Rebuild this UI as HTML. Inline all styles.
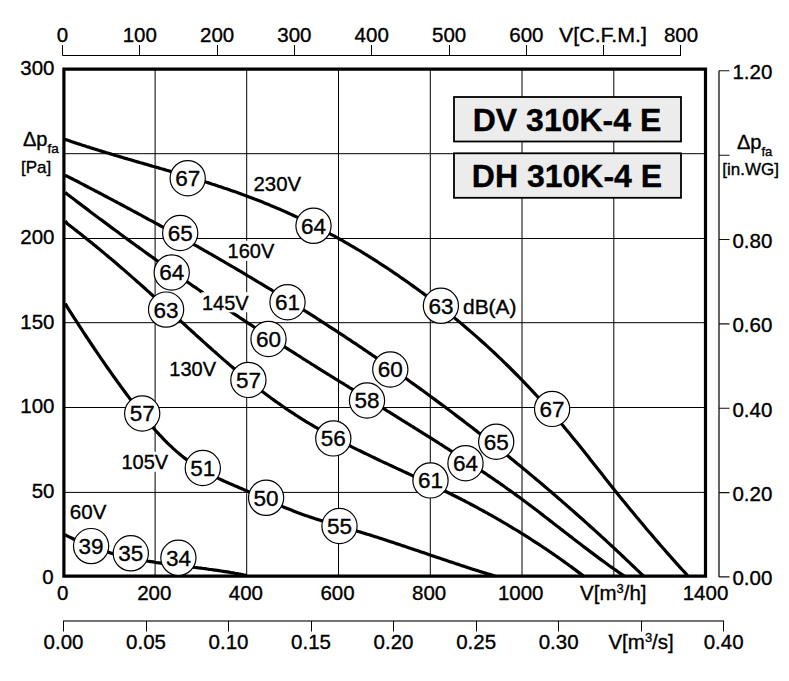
<!DOCTYPE html>
<html><head><meta charset="utf-8"><style>
html,body{margin:0;padding:0;background:#fff;width:789px;height:681px;overflow:hidden}
svg{display:block}
text{font-family:"Liberation Sans",Arial,sans-serif;fill:#000;stroke:#000;stroke-width:0.35px}
.a{font-size:20.5px}
.s{font-size:17px}
.l{font-size:20px}
.c{font-size:22.5px;text-anchor:middle}
.b{font-size:32px;font-weight:bold;text-anchor:middle}
</style></head><body>
<svg width="789" height="681" viewBox="0 0 789 681">
<rect width="789" height="681" fill="#fff"/>
<path d="M155.1,70V576 M246.7,70V576 M338.5,70V576 M430.3,70V576 M522.0,70V576 M613.8,70V576 M64,492.4H705 M64,407.5H705 M64,322.7H705 M64,238.5H705 M64,153.7H705" stroke="#000" stroke-width="1" fill="none"/>
<path d="M64.5,139.5 66.5,139.8 68.5,140.5 70.5,141.2 72.5,141.9 74.5,142.6 76.5,143.2 78.5,143.9 80.5,144.5 82.5,145.2 84.5,145.8 86.5,146.5 88.5,147.1 90.5,147.8 92.5,148.4 94.5,149.0 96.5,149.6 98.5,150.3 100.5,150.9 102.5,151.5 104.5,152.1 106.5,152.7 108.5,153.3 110.5,153.9 112.5,154.5 114.5,155.1 116.5,155.7 118.5,156.3 120.5,156.9 122.5,157.5 124.5,158.1 126.5,158.6 128.5,159.2 130.5,159.8 132.5,160.4 134.5,161.0 136.5,161.6 138.5,162.1 140.5,162.7 142.5,163.3 144.5,163.9 146.5,164.4 148.5,165.0 150.5,165.6 152.5,166.2 154.5,166.7 156.5,167.3 158.5,167.9 160.5,168.5 162.5,169.0 164.5,169.6 166.5,170.2 168.5,170.8 170.5,171.4 172.5,172.0 174.5,172.5 176.5,173.1 178.5,173.7 180.5,174.3 182.5,174.9 184.5,175.5 186.5,176.1 188.5,176.7 190.5,177.3 192.5,177.9 194.5,178.5 196.5,179.1 198.5,179.8 200.5,180.4 202.5,181.0 204.5,181.6 206.5,182.3 208.5,182.9 210.5,183.5 212.5,184.2 214.5,184.8 216.5,185.5 218.5,186.2 220.5,186.8 222.5,187.5 224.5,188.2 226.5,188.8 228.5,189.5 230.5,190.2 232.5,190.9 234.5,191.6 236.5,192.3 238.5,193.0 240.5,193.7 242.5,194.5 244.5,195.2 246.5,195.9 248.5,196.7 250.5,197.4 252.5,198.2 254.5,199.0 256.5,199.7 258.5,200.5 260.5,201.3 262.5,202.1 264.5,202.9 266.5,203.7 268.5,204.5 270.5,205.4 272.5,206.2 274.5,207.1 276.5,207.9 278.5,208.8 280.5,209.6 282.5,210.5 284.5,211.4 286.5,212.3 288.5,213.2 290.5,214.1 292.5,215.0 294.5,216.0 296.5,216.9 298.5,217.8 300.5,218.8 302.5,219.7 304.5,220.7 306.5,221.7 308.5,222.7 310.5,223.7 312.5,224.7 314.5,225.7 316.5,226.7 318.5,227.7 320.5,228.8 322.5,229.8 324.5,230.9 326.5,231.9 328.5,233.0 330.5,234.1 332.5,235.1 334.5,236.2 336.5,237.3 338.5,238.4 340.5,239.6 342.5,240.7 344.5,241.8 346.5,243.0 348.5,244.1 350.5,245.3 352.5,246.5 354.5,247.6 356.5,248.8 358.5,250.0 360.5,251.2 362.5,252.4 364.5,253.7 366.5,254.9 368.5,256.1 370.5,257.4 372.5,258.6 374.5,259.9 376.5,261.2 378.5,262.5 380.5,263.8 382.5,265.1 384.5,266.4 386.5,267.7 388.5,269.0 390.5,270.4 392.5,271.7 394.5,273.1 396.5,274.4 398.5,275.8 400.5,277.2 402.5,278.6 404.5,280.0 406.5,281.4 408.5,282.8 410.5,284.2 412.5,285.6 414.5,287.1 416.5,288.5 418.5,290.0 420.5,291.5 422.5,292.9 424.5,294.4 426.5,295.9 428.5,297.4 430.5,299.0 432.5,300.5 434.5,302.0 436.5,303.6 438.5,305.1 440.5,306.7 442.5,308.3 444.5,309.8 446.5,311.4 448.5,313.0 450.5,314.6 452.5,316.3 454.5,317.9 456.5,319.6 458.5,321.2 460.5,322.9 462.5,324.6 464.5,326.2 466.5,328.0 468.5,329.7 470.5,331.4 472.5,333.1 474.5,334.9 476.5,336.6 478.5,338.4 480.5,340.2 482.5,342.0 484.5,343.8 486.5,345.6 488.5,347.4 490.5,349.3 492.5,351.1 494.5,353.0 496.5,354.9 498.5,356.8 500.5,358.7 502.5,360.6 504.5,362.6 506.5,364.5 508.5,366.5 510.5,368.5 512.5,370.5 514.5,372.5 516.5,374.5 518.5,376.5 520.5,378.6 522.5,380.6 524.5,382.7 526.5,384.8 528.5,386.9 530.5,389.0 532.5,391.2 534.5,393.3 536.5,395.5 538.5,397.7 540.5,399.9 542.5,402.1 544.5,404.3 546.5,406.6 548.5,408.8 550.5,411.1 552.5,413.4 554.5,415.7 556.5,418.0 558.5,420.4 560.5,422.7 562.5,425.1 564.5,427.5 566.5,429.9 568.5,432.3 570.5,434.7 572.5,437.2 574.5,439.7 576.5,442.1 578.5,444.6 580.5,447.1 582.5,449.6 584.5,452.1 586.5,454.6 588.5,457.1 590.5,459.7 592.5,462.2 594.5,464.7 596.5,467.2 598.5,469.8 600.5,472.3 602.5,474.8 604.5,477.4 606.5,479.9 608.5,482.4 610.5,484.9 612.5,487.4 614.5,489.9 616.5,492.4 618.5,494.9 620.5,497.4 622.5,499.9 624.5,502.3 626.5,504.8 628.5,507.2 630.5,509.7 632.5,512.1 634.5,514.5 636.5,516.9 638.5,519.3 640.5,521.7 642.5,524.1 644.5,526.5 646.5,528.9 648.5,531.2 650.5,533.6 652.5,535.9 654.5,538.3 656.5,540.6 658.5,542.9 660.5,545.2 662.5,547.5 664.5,549.8 666.5,552.1 668.5,554.4 670.5,556.6 672.5,558.9 674.5,561.1 676.5,563.4 678.5,565.6 680.5,567.8 682.5,570.0 684.5,572.2 686.5,574.4 687.6,576.0" stroke="#000" stroke-width="3.2" fill="none" stroke-linejoin="round"/>
<path d="M65.0,175.5 67.0,176.1 69.0,177.2 71.0,178.2 73.0,179.2 75.0,180.3 77.0,181.3 79.0,182.3 81.0,183.4 83.0,184.4 85.0,185.5 87.0,186.5 89.0,187.6 91.0,188.6 93.0,189.6 95.0,190.7 97.0,191.7 99.0,192.8 101.0,193.8 103.0,194.9 105.0,196.0 107.0,197.0 109.0,198.1 111.0,199.1 113.0,200.2 115.0,201.3 117.0,202.3 119.0,203.4 121.0,204.5 123.0,205.5 125.0,206.6 127.0,207.7 129.0,208.7 131.0,209.8 133.0,210.9 135.0,212.0 137.0,213.0 139.0,214.1 141.0,215.2 143.0,216.3 145.0,217.4 147.0,218.5 149.0,219.6 151.0,220.6 153.0,221.7 155.0,222.8 157.0,223.9 159.0,225.0 161.0,226.1 163.0,227.2 165.0,228.3 167.0,229.4 169.0,230.5 171.0,231.7 173.0,232.8 175.0,233.9 177.0,235.0 179.0,236.1 181.0,237.2 183.0,238.3 185.0,239.5 187.0,240.6 189.0,241.7 191.0,242.8 193.0,244.0 195.0,245.1 197.0,246.2 199.0,247.4 201.0,248.5 203.0,249.7 205.0,250.8 207.0,251.9 209.0,253.1 211.0,254.2 213.0,255.4 215.0,256.5 217.0,257.7 219.0,258.9 221.0,260.0 223.0,261.2 225.0,262.3 227.0,263.5 229.0,264.7 231.0,265.8 233.0,267.0 235.0,268.2 237.0,269.4 239.0,270.5 241.0,271.7 243.0,272.9 245.0,274.1 247.0,275.3 249.0,276.5 251.0,277.7 253.0,278.9 255.0,280.1 257.0,281.3 259.0,282.5 261.0,283.7 263.0,284.9 265.0,286.1 267.0,287.3 269.0,288.5 271.0,289.7 273.0,291.0 275.0,292.2 277.0,293.4 279.0,294.6 281.0,295.9 283.0,297.1 285.0,298.3 287.0,299.6 289.0,300.8 291.0,302.1 293.0,303.3 295.0,304.6 297.0,305.8 299.0,307.1 301.0,308.3 303.0,309.6 305.0,310.9 307.0,312.1 309.0,313.4 311.0,314.7 313.0,315.9 315.0,317.2 317.0,318.5 319.0,319.8 321.0,321.1 323.0,322.4 325.0,323.7 327.0,325.0 329.0,326.3 331.0,327.6 333.0,328.9 335.0,330.2 337.0,331.5 339.0,332.8 341.0,334.1 343.0,335.4 345.0,336.7 347.0,338.1 349.0,339.4 351.0,340.7 353.0,342.1 355.0,343.4 357.0,344.7 359.0,346.1 361.0,347.4 363.0,348.8 365.0,350.1 367.0,351.5 369.0,352.9 371.0,354.2 373.0,355.6 375.0,356.9 377.0,358.3 379.0,359.7 381.0,361.1 383.0,362.5 385.0,363.8 387.0,365.2 389.0,366.6 391.0,368.0 393.0,369.4 395.0,370.8 397.0,372.2 399.0,373.6 401.0,375.1 403.0,376.5 405.0,377.9 407.0,379.3 409.0,380.7 411.0,382.2 413.0,383.6 415.0,385.0 417.0,386.5 419.0,387.9 421.0,389.4 423.0,390.8 425.0,392.3 427.0,393.7 429.0,395.2 431.0,396.7 433.0,398.1 435.0,399.6 437.0,401.1 439.0,402.6 441.0,404.1 443.0,405.5 445.0,407.0 447.0,408.5 449.0,410.0 451.0,411.5 453.0,413.0 455.0,414.6 457.0,416.1 459.0,417.6 461.0,419.1 463.0,420.6 465.0,422.2 467.0,423.7 469.0,425.2 471.0,426.8 473.0,428.3 475.0,429.9 477.0,431.4 479.0,433.0 481.0,434.5 483.0,436.1 485.0,437.7 487.0,439.3 489.0,440.8 491.0,442.4 493.0,444.0 495.0,445.6 497.0,447.2 499.0,448.8 501.0,450.4 503.0,452.0 505.0,453.6 507.0,455.2 509.0,456.8 511.0,458.5 513.0,460.1 515.0,461.7 517.0,463.4 519.0,465.0 521.0,466.6 523.0,468.3 525.0,469.9 527.0,471.6 529.0,473.3 531.0,474.9 533.0,476.6 535.0,478.3 537.0,480.0 539.0,481.6 541.0,483.3 543.0,485.0 545.0,486.7 547.0,488.4 549.0,490.1 551.0,491.8 553.0,493.5 555.0,495.3 557.0,497.0 559.0,498.7 561.0,500.4 563.0,502.2 565.0,503.9 567.0,505.7 569.0,507.4 571.0,509.2 573.0,510.9 575.0,512.7 577.0,514.5 579.0,516.2 581.0,518.0 583.0,519.8 585.0,521.6 587.0,523.4 589.0,525.2 591.0,527.0 593.0,528.8 595.0,530.6 597.0,532.4 599.0,534.2 601.0,536.1 603.0,537.9 605.0,539.7 607.0,541.6 609.0,543.4 611.0,545.3 613.0,547.1 615.0,549.0 617.0,550.9 619.0,552.7 621.0,554.6 623.0,556.5 625.0,558.4 627.0,560.3 629.0,562.2 631.0,564.1 633.0,566.0 635.0,567.9 637.0,569.8 639.0,571.7 641.0,573.6 643.0,575.6 644.0,576.0" stroke="#000" stroke-width="3.2" fill="none" stroke-linejoin="round"/>
<path d="M65.3,192.5 67.3,194.2 69.3,195.7 71.3,197.3 73.3,198.8 75.3,200.3 77.3,201.9 79.3,203.4 81.3,204.9 83.3,206.4 85.3,207.9 87.3,209.4 89.3,210.9 91.3,212.5 93.3,214.0 95.3,215.5 97.3,217.0 99.3,218.5 101.3,219.9 103.3,221.4 105.3,222.9 107.3,224.4 109.3,225.9 111.3,227.4 113.3,228.9 115.3,230.3 117.3,231.8 119.3,233.3 121.3,234.7 123.3,236.2 125.3,237.7 127.3,239.1 129.3,240.6 131.3,242.1 133.3,243.5 135.3,245.0 137.3,246.4 139.3,247.9 141.3,249.3 143.3,250.8 145.3,252.2 147.3,253.6 149.3,255.1 151.3,256.5 153.3,257.9 155.3,259.4 157.3,260.8 159.3,262.2 161.3,263.6 163.3,265.1 165.3,266.5 167.3,267.9 169.3,269.3 171.3,270.7 173.3,272.1 175.3,273.5 177.3,274.9 179.3,276.3 181.3,277.7 183.3,279.1 185.3,280.5 187.3,281.9 189.3,283.3 191.3,284.7 193.3,286.1 195.3,287.4 197.3,288.8 199.3,290.2 201.3,291.6 203.3,293.0 205.3,294.3 207.3,295.7 209.3,297.1 211.3,298.4 213.3,299.8 215.3,301.1 217.3,302.5 219.3,303.9 221.3,305.2 223.3,306.6 225.3,307.9 227.3,309.2 229.3,310.6 231.3,311.9 233.3,313.3 235.3,314.6 237.3,315.9 239.3,317.3 241.3,318.6 243.3,319.9 245.3,321.3 247.3,322.6 249.3,323.9 251.3,325.2 253.3,326.5 255.3,327.9 257.3,329.2 259.3,330.5 261.3,331.8 263.3,333.1 265.3,334.4 267.3,335.7 269.3,337.0 271.3,338.3 273.3,339.6 275.3,340.9 277.3,342.2 279.3,343.5 281.3,344.7 283.3,346.0 285.3,347.3 287.3,348.6 289.3,349.9 291.3,351.1 293.3,352.4 295.3,353.7 297.3,355.0 299.3,356.2 301.3,357.5 303.3,358.8 305.3,360.0 307.3,361.3 309.3,362.5 311.3,363.8 313.3,365.0 315.3,366.3 317.3,367.6 319.3,368.8 321.3,370.1 323.3,371.3 325.3,372.6 327.3,373.8 329.3,375.0 331.3,376.3 333.3,377.5 335.3,378.8 337.3,380.0 339.3,381.3 341.3,382.5 343.3,383.7 345.3,385.0 347.3,386.2 349.3,387.5 351.3,388.7 353.3,389.9 355.3,391.2 357.3,392.4 359.3,393.6 361.3,394.9 363.3,396.1 365.3,397.4 367.3,398.6 369.3,399.8 371.3,401.1 373.3,402.3 375.3,403.5 377.3,404.8 379.3,406.0 381.3,407.2 383.3,408.5 385.3,409.7 387.3,411.0 389.3,412.2 391.3,413.4 393.3,414.7 395.3,415.9 397.3,417.1 399.3,418.4 401.3,419.6 403.3,420.9 405.3,422.1 407.3,423.4 409.3,424.6 411.3,425.9 413.3,427.1 415.3,428.4 417.3,429.6 419.3,430.9 421.3,432.1 423.3,433.4 425.3,434.6 427.3,435.9 429.3,437.1 431.3,438.4 433.3,439.7 435.3,440.9 437.3,442.2 439.3,443.5 441.3,444.7 443.3,446.0 445.3,447.3 447.3,448.5 449.3,449.8 451.3,451.1 453.3,452.4 455.3,453.7 457.3,455.0 459.3,456.3 461.3,457.6 463.3,458.9 465.3,460.2 467.3,461.5 469.3,462.8 471.3,464.1 473.3,465.4 475.3,466.7 477.3,468.1 479.3,469.4 481.3,470.7 483.3,472.1 485.3,473.4 487.3,474.8 489.3,476.1 491.3,477.5 493.3,478.9 495.3,480.3 497.3,481.6 499.3,483.0 501.3,484.4 503.3,485.8 505.3,487.2 507.3,488.7 509.3,490.1 511.3,491.5 513.3,493.0 515.3,494.4 517.3,495.9 519.3,497.3 521.3,498.8 523.3,500.3 525.3,501.8 527.3,503.2 529.3,504.7 531.3,506.3 533.3,507.8 535.3,509.3 537.3,510.8 539.3,512.3 541.3,513.9 543.3,515.4 545.3,517.0 547.3,518.5 549.3,520.1 551.3,521.6 553.3,523.2 555.3,524.7 557.3,526.3 559.3,527.8 561.3,529.4 563.3,530.9 565.3,532.5 567.3,534.0 569.3,535.6 571.3,537.1 573.3,538.7 575.3,540.2 577.3,541.8 579.3,543.3 581.3,544.8 583.3,546.4 585.3,547.9 587.3,549.4 589.3,550.9 591.3,552.4 593.3,553.9 595.3,555.4 597.3,556.9 599.3,558.4 601.3,559.9 603.3,561.3 605.3,562.8 607.3,564.2 609.3,565.7 611.3,567.1 613.3,568.5 615.3,569.9 617.3,571.3 619.3,572.7 621.3,574.0 623.3,575.4 624.6,576.0" stroke="#000" stroke-width="3.2" fill="none" stroke-linejoin="round"/>
<path d="M65.3,221.1 67.3,223.7 69.3,225.2 71.3,226.8 73.3,228.3 75.3,229.9 77.3,231.4 79.3,233.0 81.3,234.6 83.3,236.2 85.3,237.8 87.3,239.4 89.3,241.0 91.3,242.6 93.3,244.2 95.3,245.8 97.3,247.5 99.3,249.1 101.3,250.8 103.3,252.4 105.3,254.1 107.3,255.8 109.3,257.5 111.3,259.1 113.3,260.8 115.3,262.5 117.3,264.2 119.3,266.0 121.3,267.7 123.3,269.4 125.3,271.1 127.3,272.9 129.3,274.6 131.3,276.4 133.3,278.1 135.3,279.9 137.3,281.7 139.3,283.4 141.3,285.2 143.3,287.0 145.3,288.8 147.3,290.6 149.3,292.4 151.3,294.2 153.3,296.0 155.3,297.8 157.3,299.6 159.3,301.4 161.3,303.3 163.3,305.1 165.3,306.9 167.3,308.7 169.3,310.6 171.3,312.4 173.3,314.2 175.3,316.1 177.3,317.9 179.3,319.7 181.3,321.6 183.3,323.4 185.3,325.2 187.3,327.1 189.3,328.9 191.3,330.7 193.3,332.5 195.3,334.4 197.3,336.2 199.3,338.0 201.3,339.8 203.3,341.6 205.3,343.4 207.3,345.2 209.3,347.0 211.3,348.8 213.3,350.6 215.3,352.3 217.3,354.1 219.3,355.9 221.3,357.6 223.3,359.4 225.3,361.1 227.3,362.8 229.3,364.6 231.3,366.3 233.3,368.0 235.3,369.7 237.3,371.3 239.3,373.0 241.3,374.7 243.3,376.3 245.3,378.0 247.3,379.6 249.3,381.2 251.3,382.8 253.3,384.4 255.3,386.0 257.3,387.6 259.3,389.1 261.3,390.7 263.3,392.2 265.3,393.7 267.3,395.2 269.3,396.7 271.3,398.2 273.3,399.6 275.3,401.1 277.3,402.5 279.3,403.9 281.3,405.3 283.3,406.7 285.3,408.1 287.3,409.5 289.3,410.8 291.3,412.1 293.3,413.4 295.3,414.8 297.3,416.0 299.3,417.3 301.3,418.6 303.3,419.8 305.3,421.1 307.3,422.3 309.3,423.5 311.3,424.7 313.3,425.9 315.3,427.1 317.3,428.2 319.3,429.4 321.3,430.5 323.3,431.6 325.3,432.8 327.3,433.9 329.3,435.0 331.3,436.1 333.3,437.2 335.3,438.2 337.3,439.3 339.3,440.4 341.3,441.4 343.3,442.5 345.3,443.5 347.3,444.5 349.3,445.5 351.3,446.6 353.3,447.6 355.3,448.6 357.3,449.6 359.3,450.5 361.3,451.5 363.3,452.5 365.3,453.5 367.3,454.4 369.3,455.4 371.3,456.4 373.3,457.3 375.3,458.3 377.3,459.2 379.3,460.2 381.3,461.1 383.3,462.1 385.3,463.0 387.3,463.9 389.3,464.9 391.3,465.8 393.3,466.7 395.3,467.6 397.3,468.6 399.3,469.5 401.3,470.4 403.3,471.4 405.3,472.3 407.3,473.2 409.3,474.1 411.3,475.1 413.3,476.0 415.3,476.9 417.3,477.8 419.3,478.8 421.3,479.7 423.3,480.7 425.3,481.6 427.3,482.5 429.3,483.5 431.3,484.4 433.3,485.4 435.3,486.3 437.3,487.3 439.3,488.3 441.3,489.2 443.3,490.2 445.3,491.2 447.3,492.2 449.3,493.2 451.3,494.2 453.3,495.2 455.3,496.2 457.3,497.2 459.3,498.2 461.3,499.2 463.3,500.3 465.3,501.3 467.3,502.4 469.3,503.4 471.3,504.5 473.3,505.5 475.3,506.6 477.3,507.7 479.3,508.8 481.3,509.9 483.3,511.0 485.3,512.1 487.3,513.2 489.3,514.3 491.3,515.4 493.3,516.5 495.3,517.7 497.3,518.8 499.3,520.0 501.3,521.1 503.3,522.3 505.3,523.5 507.3,524.7 509.3,525.9 511.3,527.1 513.3,528.3 515.3,529.5 517.3,530.7 519.3,531.9 521.3,533.2 523.3,534.4 525.3,535.7 527.3,536.9 529.3,538.2 531.3,539.5 533.3,540.8 535.3,542.1 537.3,543.4 539.3,544.7 541.3,546.0 543.3,547.3 545.3,548.7 547.3,550.0 549.3,551.4 551.3,552.7 553.3,554.1 555.3,555.5 557.3,556.9 559.3,558.3 561.3,559.7 563.3,561.1 565.3,562.6 567.3,564.0 569.3,565.5 571.3,566.9 573.3,568.4 575.3,569.9 577.3,571.4 579.3,572.9 581.3,574.4 583.3,575.9 584.0,576.0" stroke="#000" stroke-width="3.2" fill="none" stroke-linejoin="round"/>
<path d="M65.3,303.5 67.3,307.2 69.3,310.3 71.3,313.4 73.3,316.6 75.3,319.7 77.3,322.7 79.3,325.8 81.3,328.9 83.3,332.0 85.3,335.0 87.3,338.0 89.3,341.0 91.3,344.0 93.3,347.0 95.3,350.0 97.3,352.9 99.3,355.9 101.3,358.8 103.3,361.7 105.3,364.6 107.3,367.5 109.3,370.3 111.3,373.2 113.3,376.0 115.3,378.8 117.3,381.6 119.3,384.3 121.3,387.1 123.3,389.8 125.3,392.5 127.3,395.2 129.3,397.9 131.3,400.5 133.3,403.1 135.3,405.8 137.3,408.3 139.3,410.9 141.3,413.4 143.3,415.9 145.3,418.4 147.3,420.8 149.3,423.2 151.3,425.6 153.3,427.9 155.3,430.2 157.3,432.4 159.3,434.6 161.3,436.7 163.3,438.8 165.3,440.9 167.3,442.9 169.3,444.8 171.3,446.7 173.3,448.6 175.3,450.4 177.3,452.1 179.3,453.8 181.3,455.5 183.3,457.1 185.3,458.6 187.3,460.1 189.3,461.6 191.3,463.0 193.3,464.3 195.3,465.6 197.3,466.9 199.3,468.2 201.3,469.4 203.3,470.5 205.3,471.7 207.3,472.8 209.3,473.9 211.3,474.9 213.3,475.9 215.3,476.9 217.3,477.9 219.3,478.9 221.3,479.8 223.3,480.7 225.3,481.6 227.3,482.5 229.3,483.4 231.3,484.3 233.3,485.1 235.3,486.0 237.3,486.8 239.3,487.7 241.3,488.5 243.3,489.4 245.3,490.3 247.3,491.1 249.3,492.0 251.3,492.9 253.3,493.7 255.3,494.6 257.3,495.5 259.3,496.4 261.3,497.3 263.3,498.2 265.3,499.0 267.3,499.9 269.3,500.8 271.3,501.7 273.3,502.6 275.3,503.4 277.3,504.3 279.3,505.2 281.3,506.0 283.3,506.9 285.3,507.7 287.3,508.5 289.3,509.3 291.3,510.1 293.3,510.9 295.3,511.7 297.3,512.5 299.3,513.2 301.3,514.0 303.3,514.7 305.3,515.4 307.3,516.1 309.3,516.8 311.3,517.4 313.3,518.1 315.3,518.8 317.3,519.4 319.3,520.0 321.3,520.6 323.3,521.3 325.3,521.9 327.3,522.5 329.3,523.1 331.3,523.6 333.3,524.2 335.3,524.8 337.3,525.4 339.3,526.0 341.3,526.5 343.3,527.1 345.3,527.7 347.3,528.3 349.3,528.8 351.3,529.4 353.3,530.0 355.3,530.6 357.3,531.2 359.3,531.8 361.3,532.4 363.3,533.0 365.3,533.6 367.3,534.2 369.3,534.8 371.3,535.4 373.3,536.1 375.3,536.7 377.3,537.3 379.3,538.0 381.3,538.6 383.3,539.3 385.3,539.9 387.3,540.6 389.3,541.2 391.3,541.9 393.3,542.5 395.3,543.2 397.3,543.9 399.3,544.5 401.3,545.2 403.3,545.9 405.3,546.5 407.3,547.2 409.3,547.9 411.3,548.6 413.3,549.2 415.3,549.9 417.3,550.6 419.3,551.3 421.3,552.0 423.3,552.6 425.3,553.3 427.3,554.0 429.3,554.7 431.3,555.4 433.3,556.1 435.3,556.7 437.3,557.4 439.3,558.1 441.3,558.8 443.3,559.4 445.3,560.1 447.3,560.8 449.3,561.5 451.3,562.1 453.3,562.8 455.3,563.5 457.3,564.1 459.3,564.8 461.3,565.5 463.3,566.1 465.3,566.8 467.3,567.4 469.3,568.1 471.3,568.7 473.3,569.4 475.3,570.0 477.3,570.6 479.3,571.3 481.3,571.9 483.3,572.5 485.3,573.1 487.3,573.7 489.3,574.3 491.3,574.9 493.3,575.5 495.2,576.0" stroke="#000" stroke-width="3.2" fill="none" stroke-linejoin="round"/>
<path d="M65.1,534.6 67.1,535.8 69.1,536.9 71.1,537.8 73.1,538.8 75.1,539.8 77.1,540.7 79.1,541.6 81.1,542.5 83.1,543.3 85.1,544.2 87.1,545.0 89.1,545.7 91.1,546.5 93.1,547.3 95.1,548.0 97.1,548.7 99.1,549.4 101.1,550.0 103.1,550.7 105.1,551.3 107.1,551.9 109.1,552.5 111.1,553.1 113.1,553.6 115.1,554.2 117.1,554.7 119.1,555.2 121.1,555.7 123.1,556.2 125.1,556.7 127.1,557.1 129.1,557.5 131.1,558.0 133.1,558.4 135.1,558.8 137.1,559.2 139.1,559.6 141.1,559.9 143.1,560.3 145.1,560.6 147.1,561.0 149.1,561.3 151.1,561.6 153.1,561.9 155.1,562.3 157.1,562.6 159.1,562.8 161.1,563.1 163.1,563.4 165.1,563.7 167.1,564.0 169.1,564.2 171.1,564.5 173.1,564.7 175.1,565.0 177.1,565.3 179.1,565.5 181.1,565.8 183.1,566.0 185.1,566.2 187.1,566.5 189.1,566.7 191.1,567.0 193.1,567.2 195.1,567.5 197.1,567.7 199.1,568.0 201.1,568.2 203.1,568.5 205.1,568.7 207.1,569.0 209.1,569.3 211.1,569.5 213.1,569.8 215.1,570.1 217.1,570.4 219.1,570.7 221.1,571.0 223.1,571.3 225.1,571.6 227.1,571.9 229.1,572.2 231.1,572.6 233.1,572.9 235.1,573.3 237.1,573.6 239.1,574.0 241.1,574.4 243.1,574.8 245.1,575.2 247.0,575.5" stroke="#000" stroke-width="3.2" fill="none" stroke-linejoin="round"/>
<path d="M63.9,69.2H705.5V576.2H63.9Z" fill="none" stroke="#000" stroke-width="3.2"/>
<rect x="252.8" y="173.5" width="48.7" height="20.1" fill="#fff"/>
<text x="253.5" y="190.8" class="l" textLength="47.6" lengthAdjust="spacingAndGlyphs">230V</text>
<rect x="226.9" y="240.8" width="48.7" height="20.1" fill="#fff"/>
<text x="227.6" y="258.1" class="l">160V</text>
<rect x="201.3" y="292.2" width="48.7" height="20.1" fill="#fff"/>
<text x="202.0" y="309.5" class="l">145V</text>
<rect x="168.6" y="358.5" width="48.7" height="20.1" fill="#fff"/>
<text x="169.3" y="375.8" class="l">130V</text>
<rect x="120.8" y="451.7" width="48.7" height="20.1" fill="#fff"/>
<text x="121.5" y="469.0" class="l">105V</text>
<rect x="69.1" y="501.2" width="37.6" height="20.1" fill="#fff"/>
<text x="69.8" y="518.5" class="l" textLength="36.6" lengthAdjust="spacingAndGlyphs">60V</text>
<circle cx="187.7" cy="178.2" r="17.6" fill="#fff" stroke="#000" stroke-width="1.2"/>
<text x="187.7" y="186.1" class="c">67</text>
<circle cx="313.5" cy="225.8" r="17.6" fill="#fff" stroke="#000" stroke-width="1.2"/>
<text x="313.5" y="233.7" class="c">64</text>
<circle cx="440.9" cy="305.8" r="17.6" fill="#fff" stroke="#000" stroke-width="1.2"/>
<text x="440.9" y="313.7" class="c">63</text>
<circle cx="552.1" cy="408.9" r="17.6" fill="#fff" stroke="#000" stroke-width="1.2"/>
<text x="552.1" y="416.8" class="c">67</text>
<circle cx="180.2" cy="233.0" r="17.6" fill="#fff" stroke="#000" stroke-width="1.2"/>
<text x="180.2" y="240.9" class="c">65</text>
<circle cx="287.5" cy="302.2" r="17.6" fill="#fff" stroke="#000" stroke-width="1.2"/>
<text x="287.5" y="310.1" class="c">61</text>
<circle cx="390.3" cy="369.5" r="17.6" fill="#fff" stroke="#000" stroke-width="1.2"/>
<text x="390.3" y="377.4" class="c">60</text>
<circle cx="496.2" cy="441.7" r="17.6" fill="#fff" stroke="#000" stroke-width="1.2"/>
<text x="496.2" y="449.6" class="c">65</text>
<circle cx="171.7" cy="272.5" r="17.6" fill="#fff" stroke="#000" stroke-width="1.2"/>
<text x="171.7" y="280.4" class="c">64</text>
<circle cx="268.5" cy="339.0" r="17.6" fill="#fff" stroke="#000" stroke-width="1.2"/>
<text x="268.5" y="346.9" class="c">60</text>
<circle cx="367.0" cy="400.5" r="17.6" fill="#fff" stroke="#000" stroke-width="1.2"/>
<text x="367.0" y="408.4" class="c">58</text>
<circle cx="465.5" cy="463.2" r="17.6" fill="#fff" stroke="#000" stroke-width="1.2"/>
<text x="465.5" y="471.1" class="c">64</text>
<circle cx="166.1" cy="309.6" r="17.6" fill="#fff" stroke="#000" stroke-width="1.2"/>
<text x="166.1" y="317.5" class="c">63</text>
<circle cx="248.4" cy="379.9" r="17.6" fill="#fff" stroke="#000" stroke-width="1.2"/>
<text x="248.4" y="387.8" class="c">57</text>
<circle cx="333.3" cy="438.4" r="17.6" fill="#fff" stroke="#000" stroke-width="1.2"/>
<text x="333.3" y="446.3" class="c">56</text>
<circle cx="430.5" cy="480.4" r="17.6" fill="#fff" stroke="#000" stroke-width="1.2"/>
<text x="430.5" y="488.3" class="c">61</text>
<circle cx="142.2" cy="413.5" r="17.6" fill="#fff" stroke="#000" stroke-width="1.2"/>
<text x="142.2" y="421.4" class="c">57</text>
<circle cx="202.8" cy="468.0" r="17.6" fill="#fff" stroke="#000" stroke-width="1.2"/>
<text x="202.8" y="475.9" class="c">51</text>
<circle cx="266.1" cy="497.8" r="17.6" fill="#fff" stroke="#000" stroke-width="1.2"/>
<text x="266.1" y="505.7" class="c">50</text>
<circle cx="339.5" cy="526.0" r="17.6" fill="#fff" stroke="#000" stroke-width="1.2"/>
<text x="339.5" y="533.9" class="c">55</text>
<circle cx="91.1" cy="546.1" r="17.6" fill="#fff" stroke="#000" stroke-width="1.2"/>
<text x="91.1" y="554.0" class="c">39</text>
<circle cx="130.8" cy="553.3" r="17.6" fill="#fff" stroke="#000" stroke-width="1.2"/>
<text x="130.8" y="561.2" class="c">35</text>
<circle cx="178.4" cy="557.8" r="17.6" fill="#fff" stroke="#000" stroke-width="1.2"/>
<text x="178.4" y="565.7" class="c">34</text>
<text x="463" y="313.7" class="l" textLength="53.5" lengthAdjust="spacingAndGlyphs">dB(A)</text>
<rect x="454" y="97" width="227" height="44.5" fill="#ececec" stroke="#000" stroke-width="1.8"/>
<rect x="454" y="153.3" width="227" height="44.5" fill="#ececec" stroke="#000" stroke-width="1.8"/>
<text x="567" y="130.8" class="b">DV 310K-4 E</text>
<text x="567" y="187" class="b">DH 310K-4 E</text>
<path d="M62.5,55.5H681 M62.5,45V55.5 M139.5,45V55.5 M217.5,45V55.5 M294.5,45V55.5 M371.5,45V55.5 M449.5,45V55.5 M526.5,45V55.5 M603.5,45V55.5 M680.5,45V55.5" stroke="#000" stroke-width="1" fill="none"/>
<text x="62.5" y="42" class="a" text-anchor="middle">0</text>
<text x="139.8" y="42" class="a" text-anchor="middle">100</text>
<text x="217.1" y="42" class="a" text-anchor="middle">200</text>
<text x="294.4" y="42" class="a" text-anchor="middle">300</text>
<text x="371.7" y="42" class="a" text-anchor="middle">400</text>
<text x="449.1" y="42" class="a" text-anchor="middle">500</text>
<text x="526.4" y="42" class="a" text-anchor="middle">600</text>
<text x="681.0" y="42" class="a" text-anchor="middle">800</text>
<text x="603" y="42" class="a" text-anchor="middle" textLength="88" lengthAdjust="spacingAndGlyphs">V[C.F.M.]</text>
<text x="54.5" y="74.8" class="a" text-anchor="end">300</text>
<text x="54.5" y="244.1" class="a" text-anchor="end">200</text>
<text x="54.5" y="328.7" class="a" text-anchor="end">150</text>
<text x="54.5" y="413.4" class="a" text-anchor="end">100</text>
<text x="54.5" y="498.1" class="a" text-anchor="end">50</text>
<text x="53.6" y="584" class="a" text-anchor="end">0</text>
<text x="23" y="145.6" class="a" style="font-size:20px">&#916;p<tspan font-size="13.5" dy="7">fa</tspan></text>
<text x="21" y="173" class="s">[Pa]</text>
<path d="M719,70.8V577" stroke="#222" stroke-width="1.4" fill="none"/>
<path d="M719,576.9H729.5 M719,492.6H729.5 M719,408.2H729.5 M719,323.9H729.5 M719,239.5H729.5 M719,155.2H729.5 M719,70.8H729.5" stroke="#111" stroke-width="1.1" fill="none"/>
<text x="732.4" y="585.4" class="a">0.00</text>
<text x="732.4" y="501.1" class="a">0.20</text>
<text x="732.4" y="416.7" class="a">0.40</text>
<text x="732.4" y="332.4" class="a">0.60</text>
<text x="732.4" y="248.0" class="a">0.80</text>
<text x="732.4" y="79.3" class="a">1.20</text>
<text x="737" y="149" class="a" style="font-size:20px">&#916;p<tspan font-size="13" dy="6.5">fa</tspan></text>
<text x="722.3" y="174.6" class="s">[in.WG]</text>
<text x="62.7" y="599.5" class="a" text-anchor="middle">0</text>
<text x="154.3" y="599.5" class="a" text-anchor="middle">200</text>
<text x="245.9" y="599.5" class="a" text-anchor="middle">400</text>
<text x="337.5" y="599.5" class="a" text-anchor="middle">600</text>
<text x="429.1" y="599.5" class="a" text-anchor="middle">800</text>
<text x="520.7" y="599.5" class="a" text-anchor="middle">1000</text>
<text x="705.5" y="599.5" class="a" text-anchor="middle">1400</text>
<text x="613.3" y="599.5" class="a" text-anchor="middle">V[m<tspan font-size="13" dy="-7">3</tspan><tspan dy="7">/h]</tspan></text>
<path d="M63,621H724" stroke="#444" stroke-width="1.5" fill="none"/>
<path d="M63.5,621V631.5 M146.5,621V631.5 M228.5,621V631.5 M311.5,621V631.5 M393.5,621V631.5 M476.5,621V631.5 M558.5,621V631.5 M641.5,621V631.5 M723.5,621V631.5" stroke="#000" stroke-width="1" fill="none"/>
<text x="63.5" y="649" class="a" text-anchor="middle">0.00</text>
<text x="146.0" y="649" class="a" text-anchor="middle">0.05</text>
<text x="228.5" y="649" class="a" text-anchor="middle">0.10</text>
<text x="311.0" y="649" class="a" text-anchor="middle">0.15</text>
<text x="393.5" y="649" class="a" text-anchor="middle">0.20</text>
<text x="476.1" y="649" class="a" text-anchor="middle">0.25</text>
<text x="558.6" y="649" class="a" text-anchor="middle">0.30</text>
<text x="723.6" y="649" class="a" text-anchor="middle">0.40</text>
<text x="641.1" y="649" class="a" text-anchor="middle">V[m<tspan font-size="13" dy="-7">3</tspan><tspan dy="7">/s]</tspan></text>
</svg>
</body></html>
